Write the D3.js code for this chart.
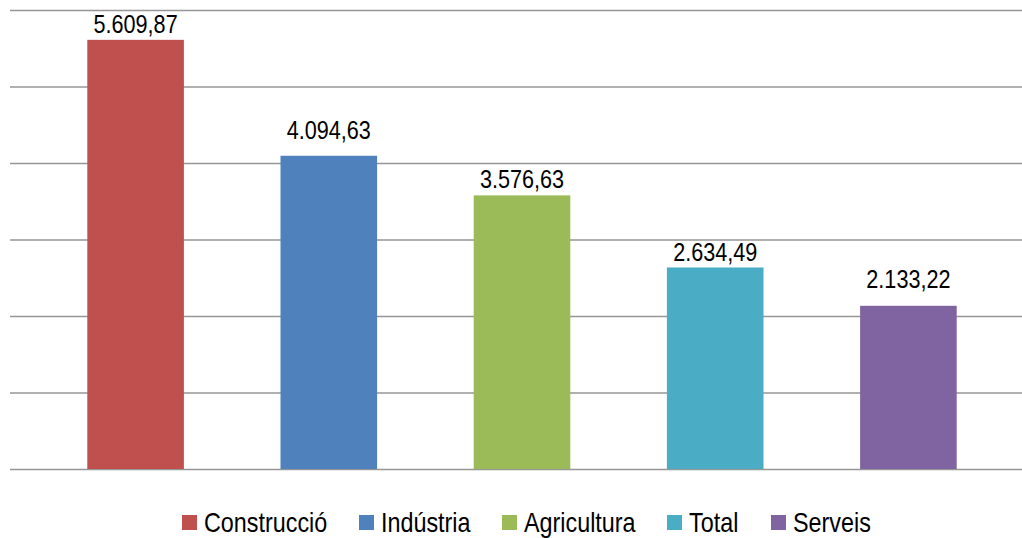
<!DOCTYPE html>
<html>
<head>
<meta charset="utf-8">
<script src="https://cdn.jsdelivr.net/npm/d3@7"></script>
<style>
  html, body { margin: 0; padding: 0; background: #fff; }
  svg { display: block; font-family: "Liberation Sans", Arial, sans-serif; }
</style>
</head>
<body>
<svg id="chart" width="1022" height="538"></svg>
<script>
// Sectors and their values
const categories = ["Construcció", "Indústria", "Agricultura", "Total", "Serveis"];
const values = [5609.87, 4094.63, 3576.63, 2634.49, 2133.22];
const colors = ["#C0504D", "#4F81BD", "#9BBB59", "#4BACC6", "#8064A2"];
const gridTicks = [0, 1000, 2000, 3000, 4000, 5000, 6000];

// Distance between each value label's baseline and its bar top
const labelGap = [7, 17, 7, 6, 18];
// Condensed look for the text
const squeeze = 0.865;

const svg = d3.select("#chart");

const x = d3.scaleBand()
  .domain(categories)
  .range([39, 1005])
  .paddingInner(0.5)
  .paddingOuter(0.25);

const y = d3.scaleLinear()
  .domain([0, 6000])
  .range([469, 10]);

const fmt = v => {
  const s = v.toFixed(2).split(".");
  return s[0].replace(/\B(?=(\d{3})+(?!\d))/g, ".") + "," + s[1];
};

// Horizontal gridlines
const yAxis = d3.axisLeft(y).tickValues(gridTicks).tickSize(-1012).tickFormat("");
svg.append("g")
  .attr("transform", "translate(10,0)")
  .call(yAxis)
  .call(g => g.select(".domain").remove())
  .call(g => g.selectAll(".tick line")
    .attr("stroke", "#969696")
    .attr("stroke-width", 1.6));

// Bars
svg.append("g").selectAll("rect")
  .data(categories)
  .join("rect")
  .attr("x", d => x(d))
  .attr("y", (d, i) => y(values[i]))
  .attr("width", x.bandwidth())
  .attr("height", (d, i) => y(0) - y(values[i]))
  .attr("fill", (d, i) => colors[i]);

// Value labels
svg.append("g").selectAll("text")
  .data(categories)
  .join("text")
  .attr("transform", (d, i) =>
    `translate(${x(d) + x.bandwidth() / 2},${y(values[i]) - labelGap[i]}) scale(${squeeze},1)`)
  .attr("text-anchor", "middle")
  .attr("font-size", 25)
  .attr("fill", "#000")
  .text((d, i) => fmt(values[i]));

// Legend
const legendX = [182, 359, 502, 667, 771];
const legend = svg.append("g").selectAll("g")
  .data(categories)
  .join("g")
  .attr("transform", (d, i) => `translate(${legendX[i]},515)`);
legend.append("rect")
  .attr("width", 15)
  .attr("height", 15)
  .attr("fill", (d, i) => colors[i]);
legend.append("text")
  .attr("transform", `translate(22,16.5) scale(${squeeze},1)`)
  .attr("font-size", 27)
  .attr("fill", "#000")
  .text(d => d);
</script>
</body>
</html>
